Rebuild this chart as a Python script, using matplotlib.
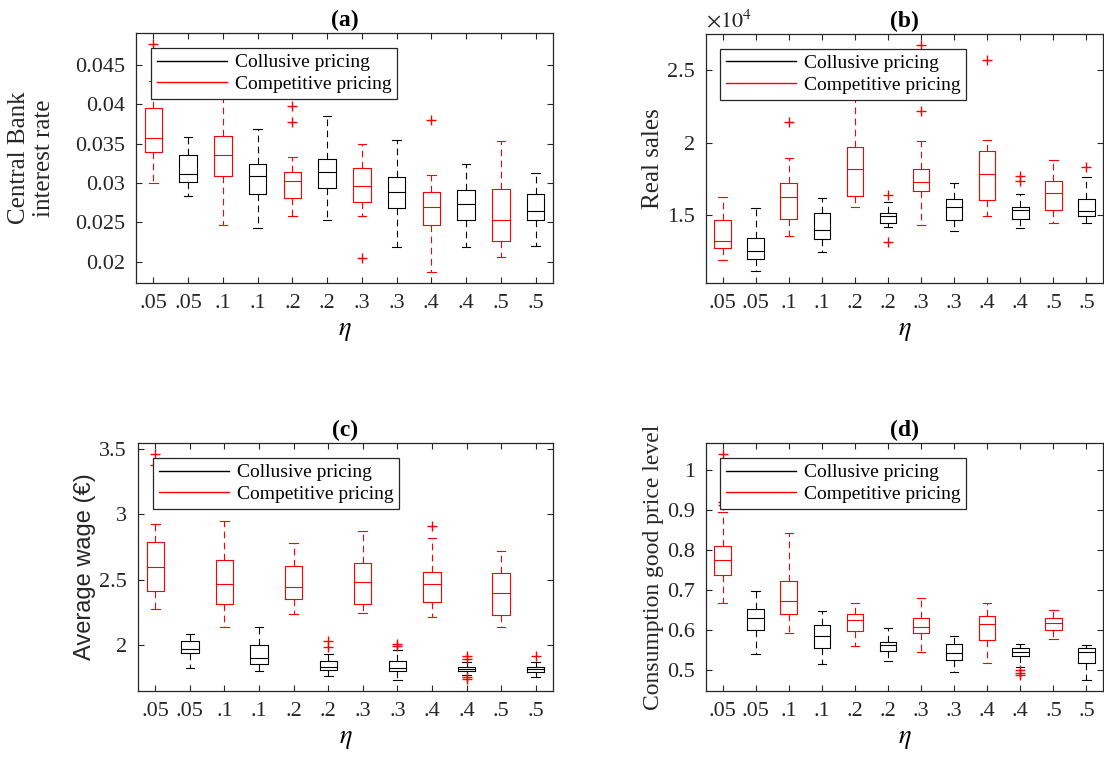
import matplotlib
matplotlib.use('Agg')
import matplotlib.pyplot as plt
from matplotlib.lines import Line2D
from matplotlib.ticker import FuncFormatter

plt.rcParams['font.family'] = ['Liberation Serif', 'DejaVu Serif']
plt.rcParams['mathtext.fontset'] = 'stix'

# box order: competitive .05, collusive .05, competitive .1, collusive .1, ...
eta_labels = ['.05', '.05', '.1', '.1', '.2', '.2', '.3', '.3', '.4', '.4', '.5', '.5']
pricing = ['comp', 'coll'] * 6

# (a) Central Bank interest rate
a_lo = [0.0300, 0.0284, 0.02465, 0.02427, 0.02576, 0.02533, 0.02576, 0.02185, 0.01875, 0.02189, 0.02066, 0.02198]
a_q1 = [0.0340, 0.0302, 0.03085, 0.02864, 0.02805, 0.02932, 0.02758, 0.02682, 0.02465, 0.02533, 0.02266, 0.02533]
a_med = [0.0357, 0.03115, 0.03357, 0.03093, 0.03025, 0.03136, 0.02962, 0.0289, 0.02694, 0.02733, 0.02529, 0.02648]
a_q3 = [0.0395, 0.03357, 0.03594, 0.03238, 0.03136, 0.03301, 0.03187, 0.03072, 0.0289, 0.02915, 0.02928, 0.02864]
a_hi = [0.0430, 0.0359, 0.0415, 0.0369, 0.0333, 0.03849, 0.03497, 0.03552, 0.0310, 0.03238, 0.0353, 0.03132]
a_out = [[0.0477], [], [], [], [0.03976, 0.03777], [], [0.02053], [], [0.03802], [], [], []]

# (b) Real sales
b_lo = [11890, 11150, 13550, 12440, 15530, 14150, 14310, 13870, 14930, 14120, 14420, 14470]
b_q1 = [12740, 11960, 14700, 13360, 16290, 14450, 16640, 14680, 16040, 14700, 15350, 14950]
b_med = [13226, 12490, 16240, 13960, 18200, 14950, 17280, 15530, 17830, 15350, 16500, 15280]
b_q3 = [14630, 13430, 17240, 15160, 19680, 15120, 18160, 16080, 19400, 15550, 17330, 16110]
b_hi = [16270, 15460, 18920, 16180, 23500, 15880, 20090, 17210, 20160, 16430, 18820, 17630]
b_out = [[], [], [21430], [], [], [16410, 13130], [26750, 22210], [], [25690], [17720, 17370], [], [18340]]

# (c) Average wage
c_lo = [2.279, 1.826, 2.138, 1.800, 2.236, 1.764, 2.246, 1.731, 2.213, 1.772, 2.141, 1.754]
c_q1 = [2.415, 1.938, 2.318, 1.859, 2.354, 1.813, 2.318, 1.800, 2.333, 1.803, 2.228, 1.795]
c_med = [2.600, 1.967, 2.469, 1.903, 2.444, 1.833, 2.485, 1.823, 2.469, 1.821, 2.395, 1.821]
c_q3 = [2.790, 2.033, 2.649, 2.000, 2.605, 1.877, 2.628, 1.879, 2.562, 1.836, 2.549, 1.831]
c_hi = [2.926, 2.085, 2.951, 2.138, 2.782, 1.931, 2.874, 1.964, 2.823, 1.867, 2.721, 1.872]
c_out = [[3.462, 3.38], [], [], [], [], [2.033, 1.982], [], [2.008, 1.99], [2.913],
         [1.918, 1.892, 1.759, 1.738], [], [1.918]]

# (d) Consumption good price level
d_lo = [0.668, 0.540, 0.5916, 0.514, 0.561, 0.522, 0.5446, 0.494, 0.517, 0.508, 0.577, 0.474]
d_q1 = [0.7367, 0.599, 0.640, 0.556, 0.597, 0.548, 0.5924, 0.5245, 0.575, 0.534, 0.600, 0.5186]
d_med = [0.7745, 0.630, 0.673, 0.585, 0.626, 0.562, 0.6076, 0.542, 0.616, 0.546, 0.617, 0.5446]
d_q3 = [0.8106, 0.652, 0.7216, 0.612, 0.639, 0.571, 0.630, 0.566, 0.636, 0.556, 0.630, 0.5547]
d_hi = [0.895, 0.698, 0.843, 0.647, 0.668, 0.605, 0.680, 0.585, 0.668, 0.566, 0.650, 0.562]
d_out = [[1.040, 0.921, 0.913], [], [], [], [], [], [], [], [], [0.499, 0.493, 0.488], [], []]

AX_COL = '#262626'
colors = {'comp': '#ff0000', 'coll': '#000000'}


def draw_panel(ax, lo, q1, med, q3, hi, out, title, ylim):
    for kind in ['comp', 'coll']:
        idx = [i for i in range(12) if pricing[i] == kind]
        stats = [dict(whislo=lo[i], q1=q1[i], med=med[i], q3=q3[i], whishi=hi[i],
                      fliers=out[i]) for i in idx]
        c = colors[kind]
        ax.bxp(stats, positions=[i + 1 for i in idx], widths=0.5,
               manage_ticks=False,
               boxprops=dict(color=c, linewidth=0.8),
               medianprops=dict(color=c, linewidth=0.8),
               whiskerprops=dict(color=c, linewidth=0.8, linestyle=(0, (6, 4))),
               capprops=dict(color=c, linewidth=0.8),
               flierprops=dict(marker='+', markeredgecolor='#ff0000',
                               markersize=7, markeredgewidth=1.0, linestyle='none'))
    ax.set_xlim(0.5, 12.5)
    ax.set_ylim(*ylim)
    ax.set_xticks(range(1, 13))
    ax.set_xticklabels(eta_labels)
    ax.set_xlabel(r'$\eta$', fontsize=19, labelpad=6)
    ax.set_title(title, fontsize=17, fontweight='bold', pad=5)
    ax.tick_params(direction='in', top=True, right=True, labelsize=16,
                   color=AX_COL, labelcolor=AX_COL, length=4, pad=8)
    for s in ax.spines.values():
        s.set_color(AX_COL)
        s.set_linewidth(0.9)
    handles = [Line2D([], [], color='black', linewidth=1),
               Line2D([], [], color='#ff0000', linewidth=1)]
    leg = ax.legend(handles, ['Collusive pricing', 'Competitive pricing'],
                    loc='upper left', bbox_to_anchor=(0.036, 0.94),
                    borderaxespad=0, fontsize=14, handlelength=3.6,
                    handletextpad=0.4, labelspacing=0.2, borderpad=0.3,
                    fancybox=False, framealpha=1, edgecolor=AX_COL)
    leg.get_frame().set_linewidth(0.9)


fig = plt.figure(figsize=(11.04, 7.57), dpi=100)
ax_a = fig.add_axes([0.1232, 0.6262, 0.3777, 0.3303])
ax_b = fig.add_axes([0.6395, 0.6262, 0.3596, 0.3290])
ax_c = fig.add_axes([0.1250, 0.0872, 0.3759, 0.3276])
ax_d = fig.add_axes([0.6395, 0.0872, 0.3596, 0.3276])

draw_panel(ax_a, a_lo, a_q1, a_med, a_q3, a_hi, a_out, '(a)', (0.0173, 0.0491))
ax_a.set_yticks([0.02, 0.025, 0.03, 0.035, 0.04, 0.045])
ax_a.yaxis.set_major_formatter(FuncFormatter(lambda v, p: '%g' % round(v, 4)))
ax_a.set_ylabel('Central Bank\ninterest rate', fontsize=18, color=AX_COL, linespacing=1.2)
ax_a.yaxis.set_label_coords(-0.194, 0.5)

draw_panel(ax_b, b_lo, b_q1, b_med, b_q3, b_hi, b_out, '(b)', (10320, 27490))
ax_b.set_yticks([15000, 20000, 25000])
ax_b.yaxis.set_major_formatter(FuncFormatter(lambda v, p: '%g' % (v / 1e4)))
ax_b.text(0.0, 1.005, r'$\times10^{4}$', transform=ax_b.transAxes, fontsize=16,
          color=AX_COL, ha='left', va='bottom')
ax_b.set_ylabel('Real sales', fontsize=18, color=AX_COL)
ax_b.yaxis.set_label_coords(-0.106, 0.5)

draw_panel(ax_c, c_lo, c_q1, c_med, c_q3, c_hi, c_out, '(c)', (1.649, 3.546))
ax_c.set_yticks([2, 2.5, 3, 3.5])
ax_c.yaxis.set_major_formatter(FuncFormatter(lambda v, p: '%g' % v))
ax_c.set_ylabel('Average wage (€)', fontsize=17, color=AX_COL,
                family=['Liberation Sans', 'DejaVu Sans'])
ax_c.yaxis.set_label_coords(-0.101, 0.5)

draw_panel(ax_d, d_lo, d_q1, d_med, d_q3, d_hi, d_out, '(d)', (0.4473, 1.068))
ax_d.set_yticks([0.5, 0.6, 0.7, 0.8, 0.9, 1.0])
ax_d.yaxis.set_major_formatter(FuncFormatter(lambda v, p: '%g' % round(v, 2)))
ax_d.set_ylabel('Consumption good price level', fontsize=17, color=AX_COL)
ax_d.yaxis.set_label_coords(-0.106, 0.5)

fig.savefig('out.png', dpi=100)
